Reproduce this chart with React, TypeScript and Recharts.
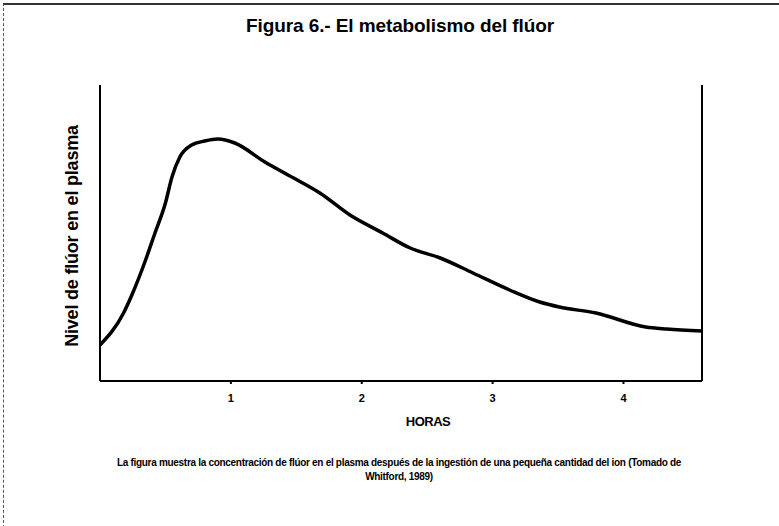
import { LineChart, Line, XAxis, YAxis, ReferenceLine } from 'recharts';

// hours after ingestion, and plasma fluoride level (arbitrary units)
const hours = [0, 0.18, 0.25, 0.34, 0.42, 0.5, 0.55, 0.61, 0.7, 0.8, 0.9, 1.03, 1.26, 1.48, 1.68, 1.91, 2.16, 2.37, 2.6, 2.85, 3.13, 3.36, 3.51, 3.79, 4.17, 4.33, 4.6];
const level = [36, 68, 88, 118, 148, 178, 204, 224, 236, 240, 242, 238, 219, 203, 188, 166, 148, 133, 123, 108, 91, 79, 74, 68, 54, 52, 50];
const xTicks = [1, 2, 3, 4];
const xMax = 4.6;

const data = hours.map((h, i) => ({ h, v: level[i] }));

const font = '"Liberation Sans", Arial, sans-serif';

export default function App() {
    return (
        <div style={{ position: 'absolute', left: 0, top: 0, width: 779, height: 526, background: '#fff', fontFamily: font, color: '#000' }}>
            <div style={{ position: 'absolute', left: 3, top: 3, width: 776, height: 523, borderLeft: '1px dashed #555', borderTop: '2px solid #333' }} />
            <div style={{ position: 'absolute', left: 0, top: 15, width: 800, textAlign: 'center', fontSize: 19, fontWeight: 'bold', letterSpacing: -0.1 }}>
                Figura 6.- El metabolismo del flúor
            </div>
            <div style={{ position: 'absolute', left: 72, top: 236, width: 0, height: 0 }}>
                <div style={{ position: 'absolute', transform: 'translate(-50%, -50%) rotate(-90deg)', whiteSpace: 'nowrap', fontSize: 18, fontWeight: 'bold', letterSpacing: -0.2 }}>
                    Nivel de flúor en el plasma
                </div>
            </div>
            <LineChart width={779} height={526} data={data} margin={{ top: 85, right: 77, bottom: 115, left: 100 }}>
                <XAxis
                    dataKey="h"
                    type="number"
                    domain={[0, xMax]}
                    ticks={xTicks}
                    height={30}
                    tickSize={3}
                    stroke="#000"
                    strokeWidth={2}
                    tick={{ fill: '#000', fontSize: 11, fontWeight: 'bold', fontFamily: font, dy: 8 }}
                    allowDataOverflow
                />
                <YAxis yAxisId="l" hide domain={[0, 296]} />
                <ReferenceLine yAxisId="l" x={0} stroke="#000" strokeWidth={2} />
                <ReferenceLine yAxisId="l" x={xMax} stroke="#000" strokeWidth={2} />
                <Line yAxisId="l" type="monotone" dataKey="v" stroke="#000" strokeWidth={3.5} dot={false} isAnimationActive={false} />
            </LineChart>
            <div style={{ position: 'absolute', left: 428, top: 414, transform: 'translateX(-50%)', fontSize: 13, fontWeight: 'bold', letterSpacing: -0.5 }}>
                HORAS
            </div>
            <div style={{ position: 'absolute', left: 90, top: 456, width: 618, textAlign: 'center', fontSize: 10, lineHeight: '14px', fontWeight: 'bold', letterSpacing: -0.3 }}>
                La figura muestra la concentración de flúor en el plasma después de la ingestión de una pequeña cantidad  del ion (Tomado de
                <br />
                Whitford, 1989)
            </div>
        </div>
    );
}
